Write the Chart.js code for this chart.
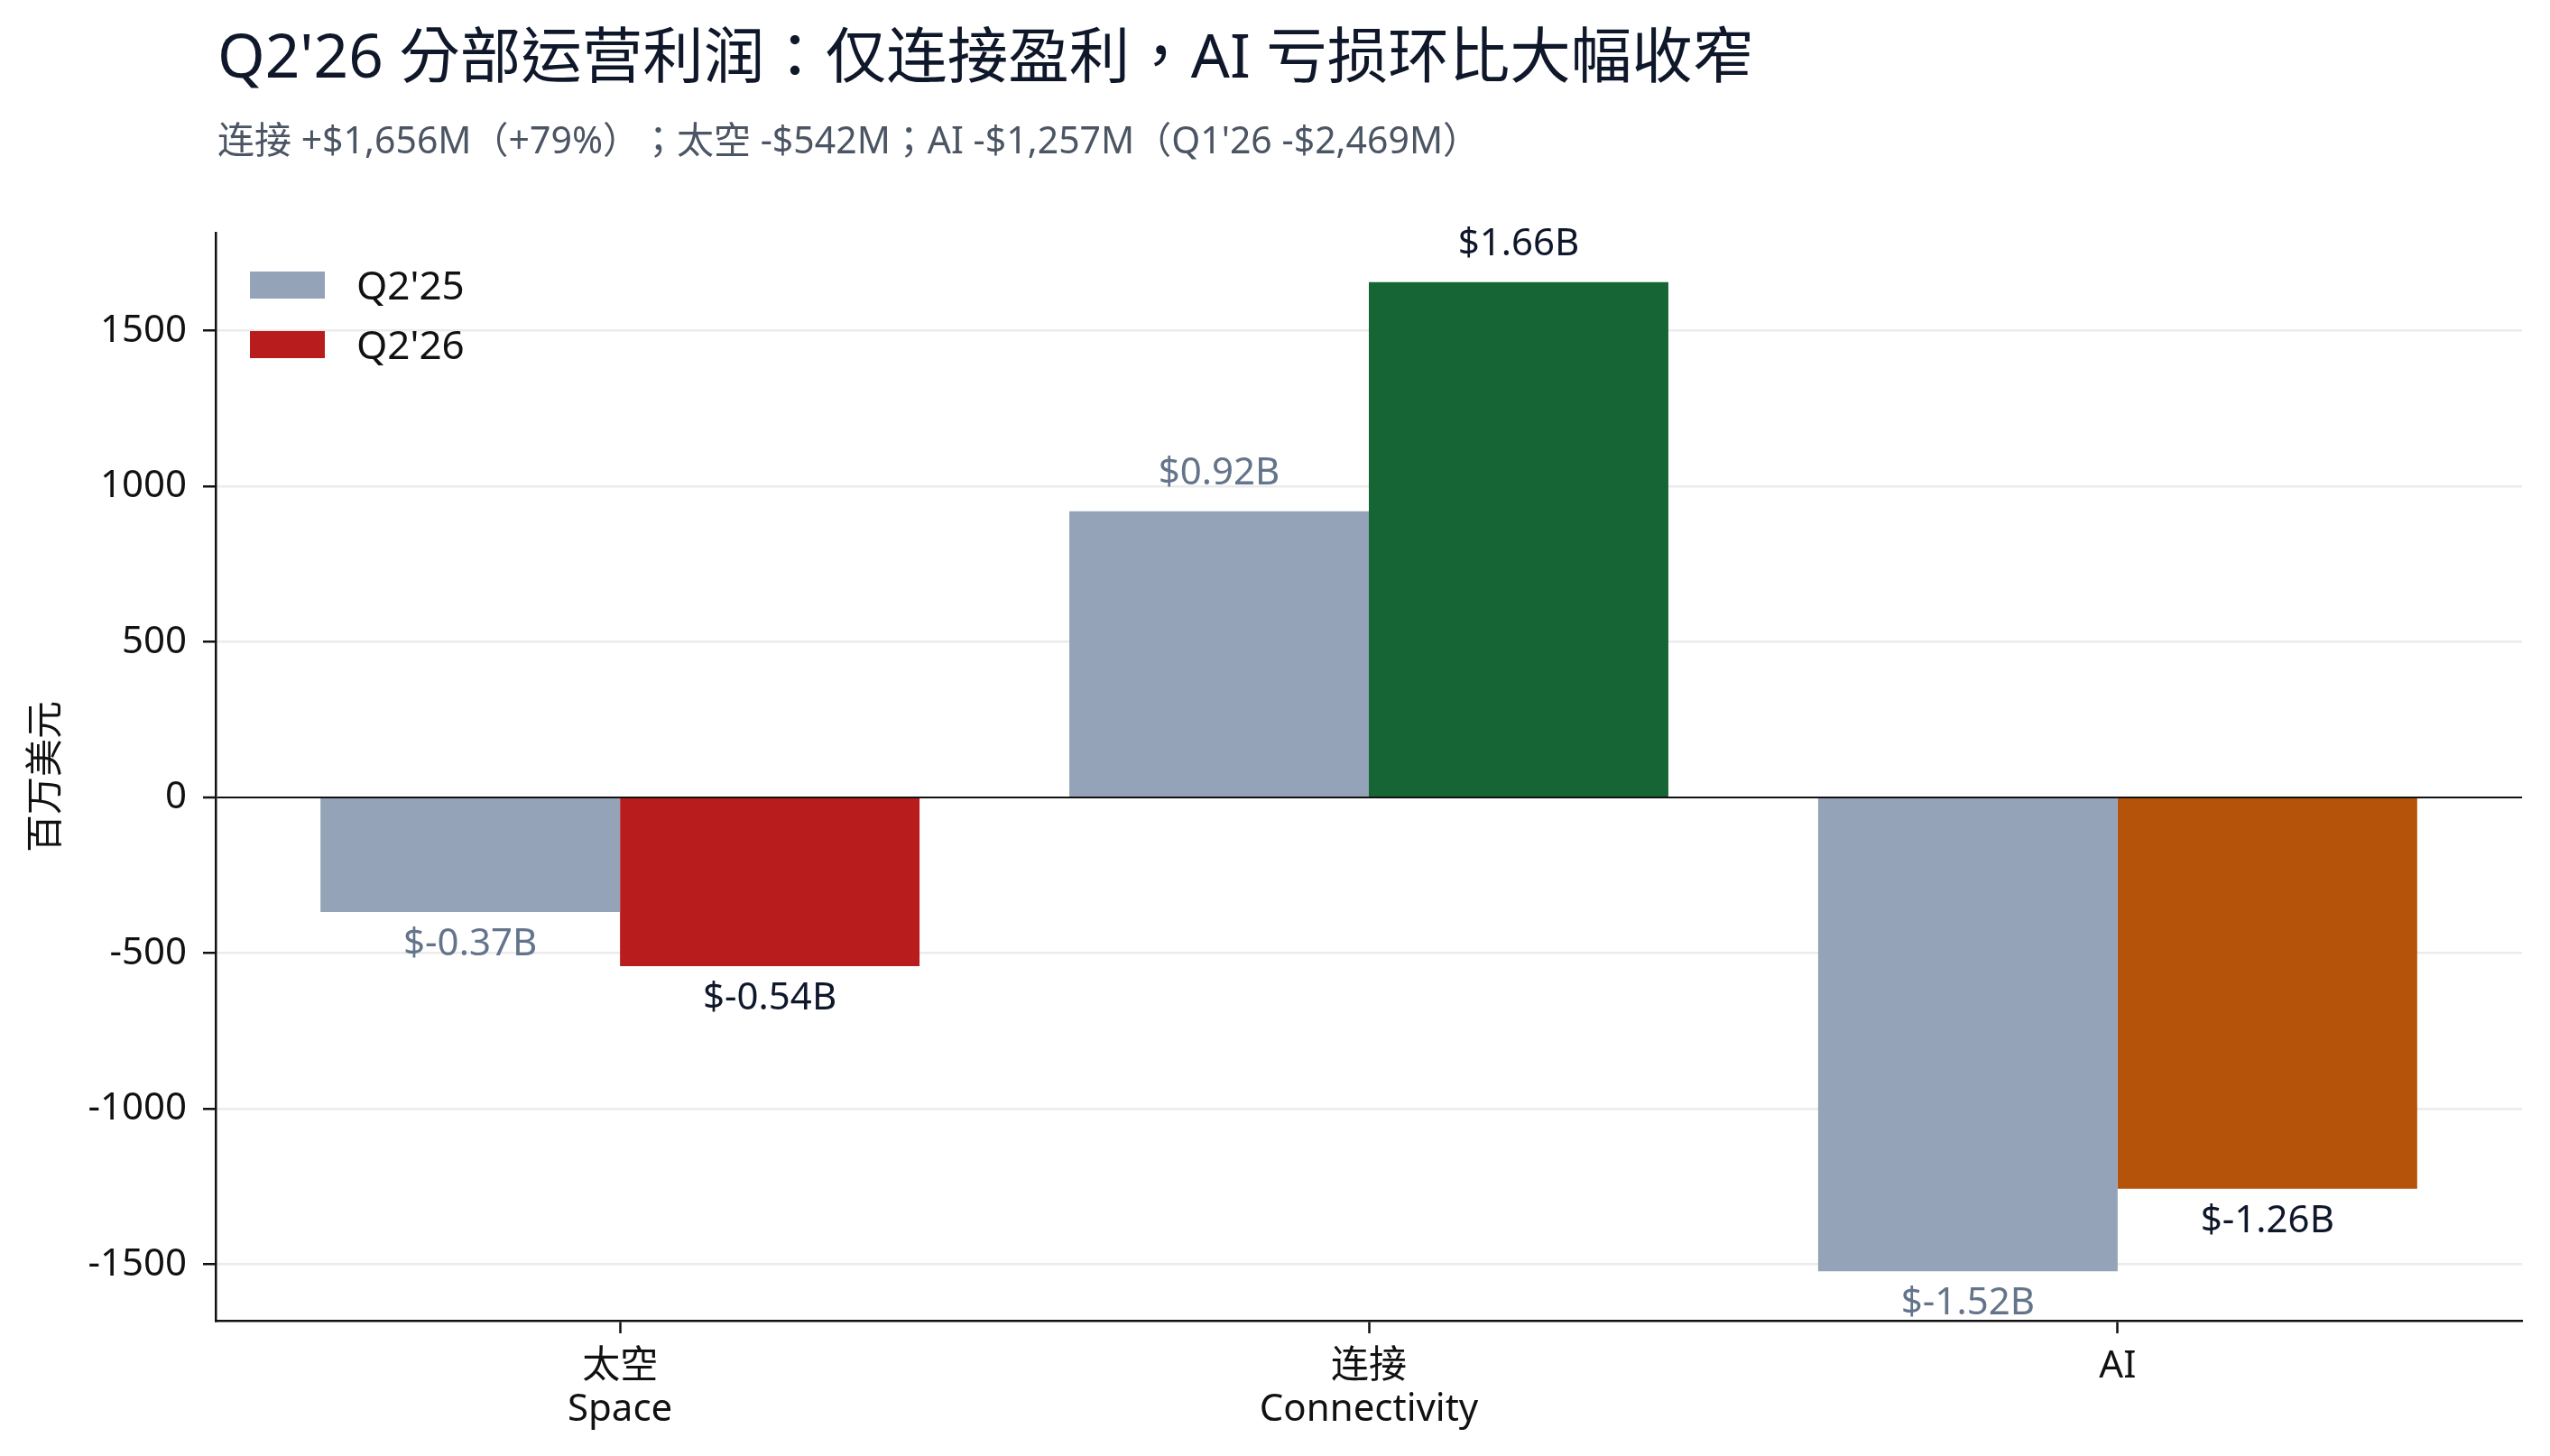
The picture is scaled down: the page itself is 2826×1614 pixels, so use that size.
<!DOCTYPE html>
<html>
<head>
<meta charset="utf-8">
<script src="https://cdn.jsdelivr.net/npm/chart.js@4.4.1/dist/chart.umd.min.js"></script>
<style>
  html, body { margin: 0; padding: 0; background: #fff; }
  #wrap { width: 2826px; height: 1614px; }
</style>
</head>
<body>
<div id="wrap"><canvas id="chart" width="2826" height="1614"></canvas></div>
<script>
// data (millions of USD)
const categories = [['太空', 'Space'], ['连接', 'Connectivity'], ['AI']];
const seriesNames = ["Q2'25", "Q2'26"];
const q225Values = [-368, 920, -1522];
const q226Values = [-542, 1656, -1257];
const yTicks = [-1500, -1000, -500, 0, 500, 1000, 1500];

const q225Color = '#94a3b8';
const q226Colors = ['#b91c1c', '#166534', '#b45309'];

const titleText = "Q2'26 分部运营利润：仅连接盈利，AI 亏损环比大幅收窄";
const subtitleText = "连接 +$1,656M（+79%）；太空 -$542M；AI -$1,257M（Q1'26 -$2,469M）";
const yTitle = '百万美元';

const FONT = '"Noto Sans", "Noto Sans CJK TC", sans-serif';

const fmtB = v => '$' + (v / 1000).toFixed(2) + 'B';

// title, legend and value labels drawn on the canvas
const textPlugin = {
  id: 'textPlugin',
  afterDraw(chart) {
    const { ctx, chartArea } = chart;
    ctx.save();
    ctx.textAlign = 'left';
    ctx.textBaseline = 'alphabetic';
    ctx.fillStyle = '#0f172a';
    ctx.font = `67.5px ${FONT}`;
    ctx.fillText(titleText, chartArea.left + 2, 86);
    ctx.fillStyle = '#4b5563';
    ctx.font = `41px ${FONT}`;
    ctx.fillText(subtitleText, chartArea.left + 2, 170);

    // value labels
    ctx.font = `42px ${FONT}`;
    ctx.textAlign = 'center';
    chart.data.datasets.forEach((ds, di) => {
      const meta = chart.getDatasetMeta(di);
      ctx.fillStyle = di === 0 ? '#64748b' : '#0f172a';
      meta.data.forEach((bar, i) => {
        const v = ds.data[i].y;
        const y = v >= 0 ? bar.y - 30 : bar.y + 48;
        ctx.fillText(fmtB(v), bar.x, y);
      });
    });

    // legend
    ctx.textAlign = 'left';
    ctx.font = `44px ${FONT}`;
    const swatches = [q225Color, q226Colors[0]];
    seriesNames.forEach((name, i) => {
      const top = chartArea.top + 43 + i * 66;
      ctx.fillStyle = swatches[i];
      ctx.fillRect(chartArea.left + 38, top, 83, 30);
      ctx.fillStyle = '#111';
      ctx.fillText(name, chartArea.left + 156, top + 31);
    });
    ctx.restore();
  }
};

new Chart(document.getElementById('chart'), {
  type: 'bar',
  data: {
    datasets: [
      {
        label: seriesNames[0],
        data: q225Values.map((v, i) => ({ x: i, y: v })),
        backgroundColor: q225Color,
        categoryPercentage: 0.8,
        barPercentage: 1.0
      },
      {
        label: seriesNames[1],
        data: q226Values.map((v, i) => ({ x: i, y: v })),
        backgroundColor: q226Colors,
        categoryPercentage: 0.8,
        barPercentage: 1.0
      }
    ]
  },
  options: {
    responsive: false,
    devicePixelRatio: 1,
    animation: false,
    layout: { padding: { top: 258, right: 31, bottom: 0, left: 0 } },
    plugins: {
      legend: { display: false },
      tooltip: { enabled: false }
    },
    scales: {
      x: {
        type: 'linear',
        min: -0.54,
        max: 2.54,
        offset: false,
        afterBuildTicks: s => { s.ticks = categories.map((c, i) => ({ value: i })); },
        afterFit: s => { s.height = 150; },
        ticks: {
          callback: v => categories[v],
          color: '#111',
          padding: 14,
          maxRotation: 0,
          font: { family: FONT, size: 42, lineHeight: 1.12 }
        },
        grid: {
          offset: false,
          drawOnChartArea: false,
          drawTicks: true,
          tickLength: 14,
          tickWidth: 2.5,
          tickColor: '#111'
        },
        border: { color: '#111', width: 2.5 }
      },
      y: {
        min: -1681,
        max: 1815,
        z: 1,
        afterBuildTicks: s => { s.ticks = yTicks.map(v => ({ value: v })); },
        afterFit: s => { s.width = 239; },
        ticks: {
          callback: v => String(v),
          color: '#111',
          padding: 18,
          font: { family: FONT, size: 42 }
        },
        grid: {
          color: c => c.tick && c.tick.value === 0 ? '#111' : 'rgba(170,170,170,0.24)',
          lineWidth: c => c.tick && c.tick.value === 0 ? 2 : 2.5,
          tickLength: 14,
          tickWidth: 2.5,
          tickColor: '#111'
        },
        border: { color: '#111', width: 2.5 },
        title: {
          display: true,
          text: yTitle,
          color: '#111',
          padding: { top: 27, bottom: 0 },
          font: { family: FONT, size: 42, lineHeight: 1.2 }
        }
      }
    }
  },
  plugins: [textPlugin]
});
</script>
</body>
</html>
